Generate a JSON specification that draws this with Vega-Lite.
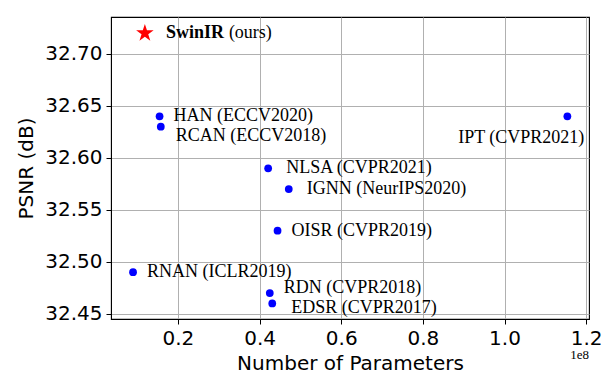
{
  "$schema": "https://vega.github.io/schema/vega-lite/v6.json",
  "width": 478,
  "height": 302,
  "autosize": {"type": "none"},
  "padding": {"left": 111, "top": 17, "right": 26, "bottom": 56},
  "background": "white",
  "data": {
    "values": [
      {"method": "SwinIR", "label": "SwinIR", "params": 0.119, "psnr": 32.72},
      {"method": "HAN", "label": "HAN (ECCV2020)", "params": 0.155, "psnr": 32.64},
      {"method": "RCAN", "label": "RCAN (ECCV2018)", "params": 0.158, "psnr": 32.63},
      {"method": "IPT", "label": "IPT (CVPR2021)", "params": 1.154, "psnr": 32.64},
      {"method": "NLSA", "label": "NLSA (CVPR2021)", "params": 0.421, "psnr": 32.59},
      {"method": "IGNN", "label": "IGNN (NeurIPS2020)", "params": 0.4715, "psnr": 32.57},
      {"method": "OISR", "label": "OISR (CVPR2019)", "params": 0.444, "psnr": 32.53},
      {"method": "RNAN", "label": "RNAN (ICLR2019)", "params": 0.09, "psnr": 32.49},
      {"method": "RDN", "label": "RDN (CVPR2018)", "params": 0.425, "psnr": 32.47},
      {"method": "EDSR", "label": "EDSR (CVPR2017)", "params": 0.431, "psnr": 32.46}
    ]
  },
  "encoding": {
    "x": {
      "field": "params",
      "type": "quantitative",
      "scale": {"domain": [0.036, 1.207], "nice": false, "zero": false},
      "axis": {"values": [0.2, 0.4, 0.6, 0.8, 1.0, 1.2], "format": ".1f", "title": "Number of Parameters", "titlePadding": 5}
    },
    "y": {
      "field": "psnr",
      "type": "quantitative",
      "scale": {"domain": [32.445, 32.7356], "nice": false, "zero": false},
      "axis": {"values": [32.45, 32.5, 32.55, 32.6, 32.65, 32.7], "format": ".2f", "title": "PSNR (dB)", "titlePadding": 8}
    }
  },
  "layer": [
    {
      "transform": [{"filter": {"not": {"field": "method", "equal": "SwinIR"}}}],
      "mark": {"type": "point", "shape": "circle", "filled": true, "color": "#0000ff", "opacity": 1, "size": 60}
    },
    {
      "transform": [{"filter": {"field": "method", "equal": "SwinIR"}}],
      "mark": {"type": "point", "shape": "M0,-1L0.225,-0.309L0.951,-0.309L0.363,0.118L0.588,0.809L0,0.382L-0.588,0.809L-0.363,0.118L-0.951,-0.309L-0.225,-0.309Z", "filled": true, "color": "#ff0000", "opacity": 1, "size": 340}
    },
    {
      "transform": [{"filter": {"field": "method", "oneOf": ["HAN", "RNAN", "OISR"]}}],
      "mark": {"type": "text", "align": "left", "baseline": "middle", "dx": 14, "dy": 0, "font": "Liberation Serif", "fontSize": 18, "color": "black"},
      "encoding": {"text": {"field": "label", "type": "nominal"}}
    },
    {
      "transform": [{"filter": {"field": "method", "oneOf": ["NLSA", "IGNN"]}}],
      "mark": {"type": "text", "align": "left", "baseline": "middle", "dx": 18, "dy": 0, "font": "Liberation Serif", "fontSize": 18, "color": "black"},
      "encoding": {"text": {"field": "label", "type": "nominal"}}
    },
    {
      "transform": [{"filter": {"field": "method", "equal": "RCAN"}}],
      "mark": {"type": "text", "align": "left", "baseline": "middle", "dx": 15, "dy": 9, "font": "Liberation Serif", "fontSize": 18, "color": "black"},
      "encoding": {"text": {"field": "label", "type": "nominal"}}
    },
    {
      "transform": [{"filter": {"field": "method", "equal": "RDN"}}],
      "mark": {"type": "text", "align": "left", "baseline": "middle", "dx": 14, "dy": -5, "font": "Liberation Serif", "fontSize": 18, "color": "black"},
      "encoding": {"text": {"field": "label", "type": "nominal"}}
    },
    {
      "transform": [{"filter": {"field": "method", "equal": "EDSR"}}],
      "mark": {"type": "text", "align": "left", "baseline": "middle", "dx": 19, "dy": 5, "font": "Liberation Serif", "fontSize": 18, "color": "black"},
      "encoding": {"text": {"field": "label", "type": "nominal"}}
    },
    {
      "transform": [{"filter": {"field": "method", "equal": "IPT"}}],
      "mark": {"type": "text", "align": "right", "baseline": "middle", "dx": 17, "dy": 22, "font": "Liberation Serif", "fontSize": 18, "color": "black"},
      "encoding": {"text": {"field": "label", "type": "nominal"}}
    },
    {
      "transform": [{"filter": {"field": "method", "equal": "SwinIR"}}],
      "mark": {"type": "text", "align": "left", "baseline": "middle", "dx": 21, "dy": 0, "font": "Liberation Serif", "fontSize": 18, "fontWeight": "bold", "color": "black"},
      "encoding": {"text": {"field": "label", "type": "nominal"}}
    },
    {
      "transform": [{"filter": {"field": "method", "equal": "SwinIR"}}],
      "mark": {"type": "text", "align": "left", "baseline": "middle", "dx": 84, "dy": 0, "font": "Liberation Serif", "fontSize": 18, "color": "black"},
      "encoding": {"text": {"value": "(ours)"}}
    },
    {
      "transform": [{"filter": {"field": "method", "equal": "IPT"}}],
      "mark": {"type": "text", "align": "right", "baseline": "middle", "dy": 36, "font": "Liberation Serif", "fontSize": 13, "color": "black", "clip": false},
      "encoding": {
        "x": {"datum": 1.207, "type": "quantitative"},
        "y": {"datum": 32.445, "type": "quantitative"},
        "text": {"value": "1e8"}
      }
    }
  ],
  "config": {
    "view": {"stroke": "black", "strokeWidth": 1.1},
    "axis": {
      "labelFont": "DejaVu Sans",
      "labelFontSize": 20,
      "labelColor": "black",
      "titleFont": "DejaVu Sans",
      "titleFontSize": 20,
      "titleFontWeight": "normal",
      "titleColor": "black",
      "tickColor": "black",
      "tickSize": 5,
      "domainColor": "black",
      "gridColor": "#b0b0b0",
      "gridOpacity": 1,
      "labelPadding": 4
    }
  }
}
